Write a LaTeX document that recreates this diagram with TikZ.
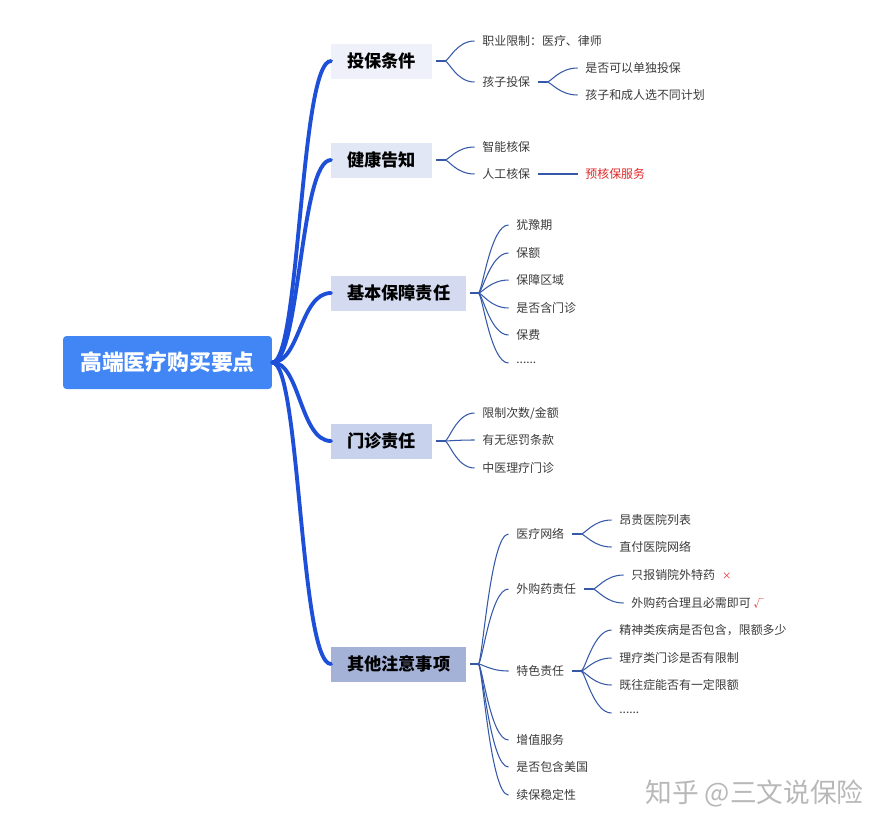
\documentclass[tikz,border=0pt]{standalone}
\usepackage{fontspec}
\setmainfont{Noto Sans CJK SC}
\definecolor{rootblue}{HTML}{4286F5}
\definecolor{trunkblue}{HTML}{1D4FD8}
\definecolor{twigblue}{HTML}{3559A8}
\definecolor{ink}{HTML}{3A3A3A}
\definecolor{warnred}{HTML}{E02828}
\definecolor{markgray}{HTML}{B8B8B8}
\begin{document}
\begin{tikzpicture}[
    x=0.02cm, y=-0.02cm,
    root/.style={fill=rootblue, rounded corners=2pt, minimum width=4.18cm, minimum height=1.06cm,
        text=white, font=\fontsize{12.4pt}{14pt}\selectfont\bfseries},
    topic/.style={anchor=west, minimum height=0.7cm, inner xsep=0.32cm, outer sep=0pt,
        font=\fontsize{9.8pt}{12pt}\selectfont\bfseries},
    leaf/.style={anchor=west, inner xsep=0.15cm, inner ysep=1pt, text=ink,
        font=\fontsize{6.8pt}{8pt}\selectfont},
    trunk/.style={draw=trunkblue, line width=2.2pt, line cap=round},
    twig/.style={draw=twigblue, line width=0.6pt,
        to path={.. controls +(4,0) and +(-18,0) .. (\tikztotarget)}}
]
    \useasboundingbox (0,0) rectangle (884,829);

    % --- root and topics ---
    \node[root] (root) at (167.5,362.5) {高端医疗购买要点};

    \node[topic, fill={rgb,255:red,238;green,241;blue,249}] (t1) at (331,61) {投保条件};
    \node[topic, fill={rgb,255:red,226;green,231;blue,245}] (t2) at (331,160) {健康告知};
    \node[topic, fill={rgb,255:red,212;green,219;blue,240}] (t3) at (331,293) {基本保障责任};
    \node[topic, fill={rgb,255:red,200;green,210;blue,237}] (t4) at (331,441) {门诊责任};
    \node[topic, fill={rgb,255:red,164;green,178;blue,216}] (t5) at (331,664) {其他注意事项};

    % thick branches from the root
    \foreach \t in {t1,t2,t3,t4,t5}
        \draw[trunk] (root.east) .. controls (300,362) and (300,0|-\t.west) .. (\t.west);

    % --- 投保条件 ---
    \draw[twig, shorten <=0.08cm] (t1.east) -- ++(13,0) coordinate (f1);
    \node[leaf] (a1) at (474.5,41) {职业限制：医疗、律师};
    \node[leaf] (a2) at (474.5,82) {孩子投保};
    \draw[twig] (f1) to (a1.west);
    \draw[twig] (f1) to (a2.west);
    \draw[twig] (a2.east) -- ++(9,0) coordinate (f2);
    \node[leaf] (a21) at (577.5,68) {是否可以单独投保};
    \node[leaf] (a22) at (577.5,95) {孩子和成人选不同计划};
    \draw[twig] (f2) to (a21.west);
    \draw[twig] (f2) to (a22.west);

    % --- 健康告知 ---
    \draw[twig, shorten <=0.08cm] (t2.east) -- ++(13,0) coordinate (f3);
    \node[leaf] (b1) at (474.5,147) {智能核保};
    \node[leaf] (b2) at (474.5,174) {人工核保};
    \node[leaf, text=warnred] (b21) at (577.5,174) {预核保服务};
    \draw[twig] (f3) to (b1.west);
    \draw[twig] (f3) to (b2.west);
    \draw[twig] (b2.east) -- (b21.west);

    % --- 基本保障责任 ---
    \draw[twig, shorten <=0.08cm] (t3.east) -- ++(12,0) coordinate (f4);
    \node[leaf] (c1) at (508.5,225) {犹豫期};
    \node[leaf] (c2) at (508.5,253) {保额};
    \node[leaf] (c3) at (508.5,280) {保障区域};
    \node[leaf] (c4) at (508.5,308) {是否含门诊};
    \node[leaf] (c5) at (508.5,335) {保费};
    \node[leaf] (c6) at (508.5,363) {......};
    \foreach \c in {c1,c2,c3,c4,c5,c6}
        \draw[twig] (f4) to (\c.west);

    % --- 门诊责任 ---
    \draw[twig, shorten <=0.08cm] (t4.east) -- ++(13,0) coordinate (f5);
    \node[leaf] (d1) at (474.5,413) {限制次数/金额};
    \node[leaf] (d2) at (474.5,440) {有无惩罚条款};
    \node[leaf] (d3) at (474.5,468) {中医理疗门诊};
    \foreach \d in {d1,d2,d3}
        \draw[twig] (f5) to (\d.west);

    % --- 其他注意事项 ---
    \draw[twig, shorten <=0.08cm] (t5.east) -- ++(12,0) coordinate (f6);
    \node[leaf] (e1) at (508.5,534) {医疗网络};
    \node[leaf] (e2) at (508.5,589) {外购药责任};
    \node[leaf] (e3) at (508.5,671) {特色责任};
    \node[leaf] (e4) at (508.5,740) {增值服务};
    \node[leaf] (e5) at (508.5,767) {是否包含美国};
    \node[leaf] (e6) at (508.5,795) {续保稳定性};
    \foreach \e in {e1,e2,e3,e4,e5,e6}
        \draw[twig] (f6) to (\e.west);

    \draw[twig] (e1.east) -- ++(9,0) coordinate (f7);
    \node[leaf] (e11) at (611.5,520) {昂贵医院列表};
    \node[leaf] (e12) at (611.5,547) {直付医院网络};
    \draw[twig] (f7) to (e11.west);
    \draw[twig] (f7) to (e12.west);

    \draw[twig] (e2.east) -- ++(9,0) coordinate (f8);
    \node[leaf] (e21) at (623.5,575) {只报销院外特药\hspace{0.6em}\textcolor{warnred}{\fontsize{5.4pt}{6pt}\selectfont ×}};
    \node[leaf] (e22) at (623.5,603) {外购药合理且必需即可 \textcolor{warnred}{\fontsize{5.8pt}{6pt}\selectfont √}};
    \draw[twig] (f8) to (e21.west);
    \draw[twig] (f8) to (e22.west);

    \draw[twig] (e3.east) -- ++(9,0) coordinate (f9);
    \node[leaf] (e31) at (611.5,630) {精神类疾病是否包含，限额多少};
    \node[leaf] (e32) at (611.5,658) {理疗类门诊是否有限制};
    \node[leaf] (e33) at (611.5,685) {既往症能否有一定限额};
    \node[leaf] (e34) at (611.5,713) {......};
    \foreach \e in {e31,e32,e33,e34}
        \draw[twig] (f9) to (\e.west);

    % watermark
    \node[anchor=west, inner sep=0pt, text=markgray, font=\fontsize{15.2pt}{17pt}\selectfont]
        (mark) at (645,793) {知乎 @三文说保险};

\end{tikzpicture}
\end{document}
